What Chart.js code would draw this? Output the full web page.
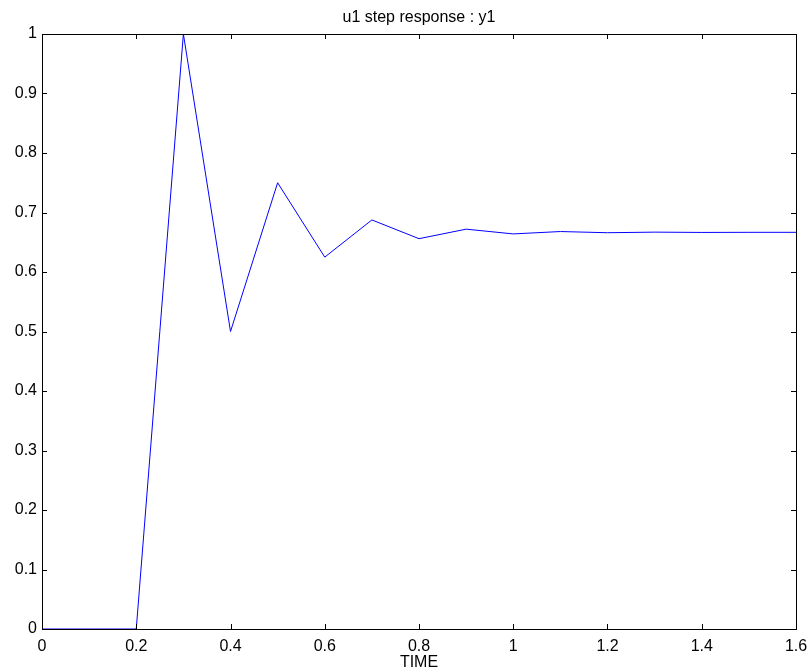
<!DOCTYPE html>
<html lang="en">
<head>
    <meta charset="UTF-8">
    <title>u1 step response : y1</title>
    <script src="https://cdnjs.cloudflare.com/ajax/libs/Chart.js/4.4.0/chart.umd.min.js"></script>
    <style>
        html, body { margin: 0; padding: 0; background: #fff; overflow: hidden; }
        .chart-container { position: relative; width: 811px; height: 672px; }
    </style>
</head>
<body>
    <div class="chart-container">
        <canvas id="stepChart"></canvas>
    </div>
    <script>
        // step response samples
        const timeValues = [0, 0.1, 0.2, 0.3, 0.4, 0.5, 0.6, 0.7, 0.8, 0.9, 1.0, 1.1, 1.2, 1.3, 1.4, 1.5, 1.6];
        const y1Values = [0, 0, 0, 1, 0.5, 0.75, 0.625, 0.6875, 0.656, 0.672, 0.664, 0.668, 0.666, 0.667, 0.6665, 0.6667, 0.6667];
        const xTicks = [0, 0.2, 0.4, 0.6, 0.8, 1, 1.2, 1.4, 1.6];
        const yTicks = [0, 0.1, 0.2, 0.3, 0.4, 0.5, 0.6, 0.7, 0.8, 0.9, 1];

        const titleText = 'u1 step response : y1';
        const FONT = 'Liberation Sans, Arial, sans-serif';
        const FSIZE = 16;

        // box, inward ticks and title, drawn the matlab way
        const matlabAxes = {
            id: 'matlabAxes',
            afterDraw(chart) {
                const ctx = chart.ctx;
                const a = chart.chartArea;
                const xs = chart.scales.x, ys = chart.scales.y;
                const tl = 5;
                ctx.save();
                ctx.strokeStyle = '#000';
                ctx.lineWidth = 1;
                ctx.beginPath();
                xTicks.forEach(v => {
                    const px = Math.round(xs.getPixelForValue(v)) + 0.5;
                    ctx.moveTo(px, a.bottom); ctx.lineTo(px, a.bottom - tl);
                    ctx.moveTo(px, a.top); ctx.lineTo(px, a.top + tl);
                });
                yTicks.forEach(v => {
                    const py = Math.round(ys.getPixelForValue(v)) + 0.5;
                    ctx.moveTo(a.left, py); ctx.lineTo(a.left + tl, py);
                    ctx.moveTo(a.right, py); ctx.lineTo(a.right - tl, py);
                });
                ctx.stroke();
                ctx.strokeRect(Math.round(a.left) + 0.5, Math.round(a.top) + 0.5,
                    Math.round(a.right - a.left), Math.round(a.bottom - a.top));
                ctx.fillStyle = '#000';
                ctx.font = FSIZE + 'px ' + FONT;
                ctx.textAlign = 'center';
                ctx.textBaseline = 'alphabetic';
                ctx.fillText(titleText, (a.left + a.right) / 2, 22);
                ctx.restore();
            }
        };

        const ctx = document.getElementById('stepChart').getContext('2d');
        new Chart(ctx, {
            type: 'line',
            data: {
                datasets: [{
                    label: 'y1',
                    data: timeValues.map((t, i) => ({ x: t, y: y1Values[i] })),
                    borderColor: '#0000ff',
                    borderWidth: 1,
                    pointRadius: 0,
                    tension: 0,
                    fill: false
                }]
            },
            options: {
                responsive: true,
                maintainAspectRatio: false,
                animation: false,
                layout: { padding: { top: 34, right: 15, left: 0, bottom: 0 } },
                plugins: {
                    legend: { display: false },
                    tooltip: { enabled: false }
                },
                scales: {
                    x: {
                        type: 'linear',
                        min: 0,
                        max: 1.6,
                        afterFit(scale) {
                            scale.height = 43;
                            scale.paddingLeft = 0;
                            scale.paddingRight = 0;
                        },
                        afterBuildTicks(scale) { scale.ticks = xTicks.map(v => ({ value: v })); },
                        grid: { display: false, drawTicks: false },
                        border: { display: false },
                        ticks: {
                            color: '#000', padding: 8, maxRotation: 0,
                            font: { family: FONT, size: FSIZE },
                            callback: v => String(v)
                        },
                        title: {
                            display: true,
                            text: 'TIME',
                            color: '#000',
                            padding: { top: 0, bottom: 0 },
                            font: { family: FONT, size: FSIZE }
                        }
                    },
                    y: {
                        min: 0,
                        max: 1,
                        afterFit(scale) {
                            scale.width = 42;
                            scale.paddingTop = 0;
                            scale.paddingBottom = 0;
                        },
                        afterBuildTicks(scale) { scale.ticks = yTicks.map(v => ({ value: v })); },
                        grid: { display: false, drawTicks: false },
                        border: { display: false },
                        ticks: {
                            color: '#000', padding: 5,
                            font: { family: FONT, size: FSIZE },
                            callback: v => String(v)
                        }
                    }
                }
            },
            plugins: [matlabAxes]
        });
    </script>
</body>
</html>
